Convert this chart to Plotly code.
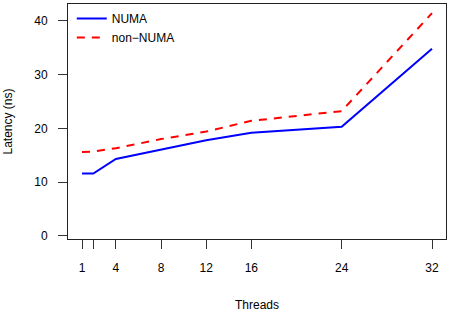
import plotly.graph_objects as go

threads = [1, 2, 4, 8, 12, 16, 24, 32]
numa = [11.6, 11.6, 14.3, 16.0, 17.8, 19.2, 20.3, 34.8]
non_numa = [15.6, 15.7, 16.3, 18.0, 19.4, 21.4, 23.2, 41.4]

x_tickvals = [1, 2, 4, 8, 12, 16, 24, 32]
x_ticktext = ["1", "", "4", "8", "12", "16", "24", "32"]
y_tickvals = [0, 10, 20, 30, 40]

font = dict(family="Liberation Sans, Arial, sans-serif", size=12, color="black")

fig = go.Figure()
fig.add_trace(go.Scatter(x=threads, y=numa, mode="lines", name="NUMA",
                         line=dict(color="#0000FF", width=2)))
fig.add_trace(go.Scatter(x=threads, y=non_numa, mode="lines", name="non\u2212NUMA",
                         line=dict(color="#FF0000", width=2, dash="8px,7px")))

fig.update_layout(
    template="none",
    width=450, height=315,
    margin=dict(l=68, r=4, t=4, b=76, pad=0),
    paper_bgcolor="white", plot_bgcolor="white",
    font=font,
    showlegend=True,
    legend=dict(x=0.01, y=1.0, xanchor="left", yanchor="top",
                bgcolor="rgba(0,0,0,0)", borderwidth=0,
                font=font, tracegroupgap=0, itemwidth=30),
    xaxis=dict(range=[-0.24, 33.24], tickvals=x_tickvals, ticktext=x_ticktext,
               showgrid=False, zeroline=False, showline=True, mirror=True,
               linecolor="#222", linewidth=1, ticks="outside", ticklen=9,
               tickcolor="#333", ticklabelstandoff=9, automargin=False,
               title=dict(text="Threads", standoff=26, font=font)),
    yaxis=dict(range=[-0.56, 43.1], tickvals=y_tickvals,
               showgrid=False, zeroline=False, showline=True, mirror=True,
               linecolor="#222", linewidth=1, ticks="outside", ticklen=9,
               tickcolor="#333", ticklabelstandoff=8, automargin=False,
               title=dict(text="Latency (ns)", standoff=19, font=font)),
)

fig.write_html("out.html", config={"displayModeBar": False},
               post_script="document.body.style.margin='0px';")
